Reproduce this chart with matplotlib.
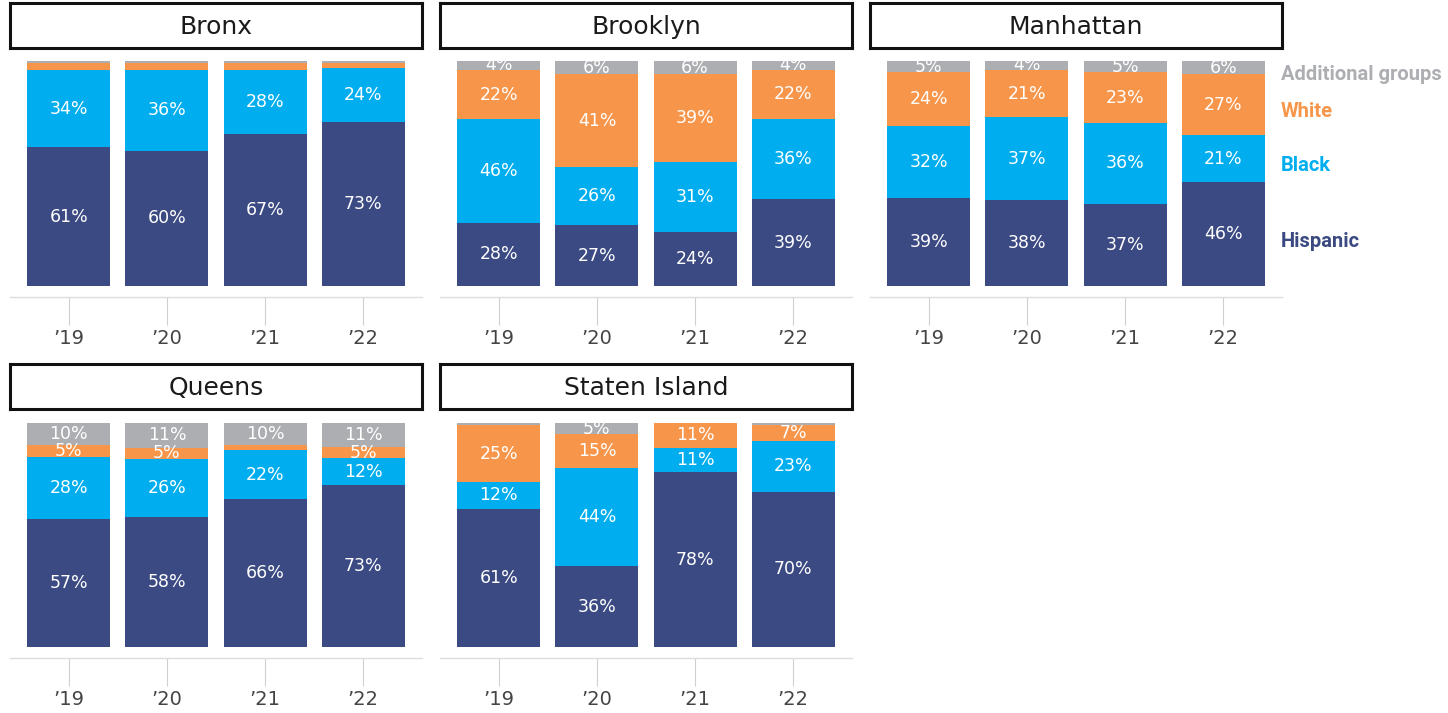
import numpy as np
import matplotlib.pyplot as plt

# 数据
boroughs = ['Bronx', 'Brooklyn', 'Manhattan', 'Queens', 'Staten Island']
years = ['\u201919', '\u201920', '\u201921', '\u201922']
groups = ['Hispanic', 'Black', 'White', 'Additional groups']

hispanic = [[61, 60, 67, 73], [28, 27, 24, 39], [39, 38, 37, 46], [57, 58, 66, 73], [61, 36, 78, 70]]
black = [[34, 36, 28, 24], [46, 26, 31, 36], [32, 37, 36, 21], [28, 26, 22, 12], [12, 44, 11, 23]]
white = [[3, 3, 3, 2], [22, 41, 39, 22], [24, 21, 23, 27], [5, 5, 2, 5], [25, 15, 11, 7]]
additional = [[1, 1, 1, 1], [4, 6, 6, 4], [5, 4, 5, 6], [10, 11, 10, 11], [1, 5, 0, 1]]

colors = ['#3b4a82', '#00aeef', '#f7964a', '#adaeb2']

W, H = 1448, 713
fig = plt.figure(figsize=(W / 100, H / 100), dpi=100)


def rect(x0, y0, x1, y1):
    return [x0 / W, 1 - y1 / H, (x1 - x0) / W, (y1 - y0) / H]


col_x = [10, 440, 870]
rows = [(3, 48, 61, 297), (364, 409, 423, 658)]
x = np.arange(4)

for i, name in enumerate(boroughs):
    r, c = divmod(i, 3)
    x0 = col_x[c]
    ty0, ty1, ay0, ay1 = rows[r]

    # 标题框
    tax = fig.add_axes(rect(x0, ty0, x0 + 412, ty1))
    tax.set_xticks([])
    tax.set_yticks([])
    for s in tax.spines.values():
        s.set_linewidth(2.2)
        s.set_color('#111111')
    tax.text(0.5, 0.47, name, ha='center', va='center', fontsize=18, color='#1a1a1a',
             transform=tax.transAxes)

    ax = fig.add_axes(rect(x0, ay0, x0 + 412, ay1))
    vals = np.array([hispanic[i], black[i], white[i], additional[i]], dtype=float)
    vals_n = vals / vals.sum(axis=0) * 100
    bottom = np.zeros(4)
    for g in range(4):
        ax.bar(x, vals_n[g], 0.847, bottom=bottom, color=colors[g], linewidth=0)
        for j in range(4):
            if vals[g, j] > 3:
                ax.text(x[j], bottom[j] + vals_n[g, j] / 2, f'{int(vals[g, j])}%',
                        ha='center', va='center', color='white', fontsize=12.5, clip_on=True)
        if name == 'Manhattan':
            # 图例文字放在最后一根柱子各段的旁边
            ax.annotate(groups[g], (3.6, bottom[3] + vals_n[g, 3] / 2), xycoords='data',
                        xytext=(-1, -5), textcoords='offset points', ha='left', va='center',
                        color=colors[g], fontsize=14.5, fontweight='bold',
                        family='Roboto', annotation_clip=False)
        bottom += vals_n[g]

    ax.set_xlim(-0.6, 3.6)
    ax.set_ylim(-4.9, 100)
    ax.set_yticks([])
    ax.set_xticks(x)
    ax.set_xticklabels(years, fontsize=14, color='#444444')
    ax.tick_params(axis='x', length=20, width=0.8, color='#d0d0d0', pad=3)
    for s in ['top', 'left', 'right']:
        ax.spines[s].set_visible(False)
    ax.spines['bottom'].set_color('#dddddd')
    ax.spines['bottom'].set_linewidth(1)

fig.savefig('out.png', dpi=100)
